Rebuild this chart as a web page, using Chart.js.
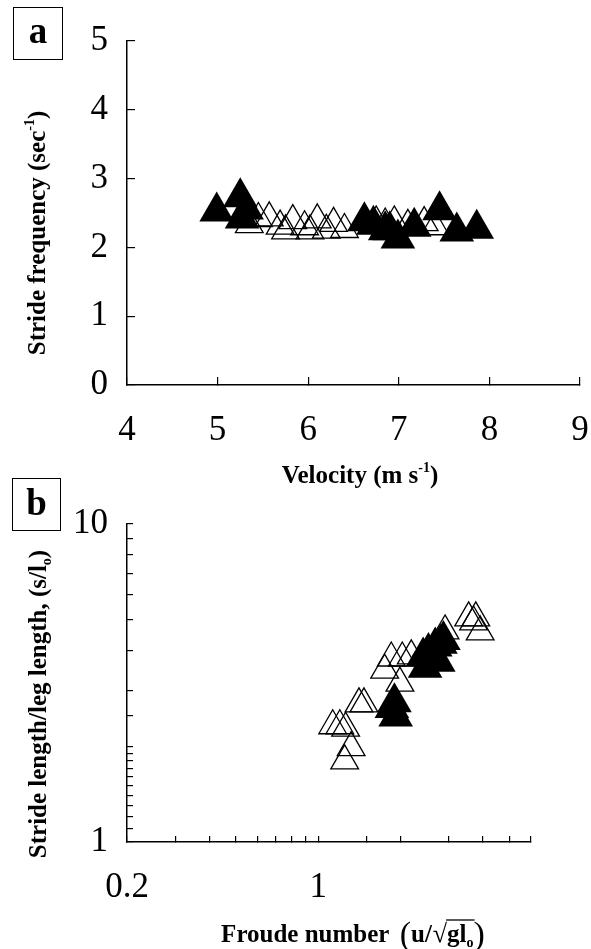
<!DOCTYPE html>
<html>
<head>
<meta charset="utf-8">
<script src="https://cdn.jsdelivr.net/npm/chart.js@4.4.1/dist/chart.umd.min.js"></script>
<style>
  body { margin:0; background:#fff; width:591px; height:949px; position:relative; overflow:hidden; }
  canvas { position:absolute; left:0; }
  .panel { position:absolute; border:1.5px solid #000; font-family:'Liberation Serif',serif; font-weight:bold;
           font-size:37px; text-align:center; box-sizing:border-box; z-index:2; background:transparent; }
</style>
</head>
<body>
<div class="panel" style="left:13px;top:7px;width:50px;height:53px;line-height:46px;">a</div>
<div class="panel" style="left:12px;top:478px;width:49px;height:53px;line-height:48px;">b</div>
<canvas id="chartA" width="600" height="500" style="top:0"></canvas>
<canvas id="chartB" width="591" height="489" style="top:460px"></canvas>
<script>
// panel a : stride frequency vs velocity
var velocityOpen = [5.35,5.45,5.57,5.69,5.75,5.83,5.96,6.02,6.10,6.20,6.28,6.40,6.75,6.85,6.95,7.10,7.28,7.40];
var freqOpen     = [2.33,2.42,2.43,2.31,2.24,2.39,2.30,2.24,2.40,2.25,2.35,2.26,2.37,2.34,2.37,2.32,2.36,2.30];
var velocityFilled = [4.99,5.25,5.27,5.32,6.62,6.72,6.85,6.90,6.99,7.17,7.45,7.64,7.86];
var freqFilled     = [2.52,2.73,2.42,2.55,2.38,2.33,2.25,2.25,2.13,2.30,2.54,2.23,2.27];
var velocityTicks = [4,5,6,7,8,9];
var freqTicks = [0,1,2,3,4,5];

// panel b : relative stride length vs Froude number (log-log)
var froudeOpen = [1.13,1.20,1.26,1.32,1.25,1.41,1.47,1.75,1.85,2.03,2.19,1.99,2.91,3.55,3.77,3.70,3.91];
var lengthOpen = [2.32,2.32,2.28,1.98,1.80,2.72,2.72,3.47,3.79,3.79,3.85,3.16,4.61,5.07,5.07,4.92,4.58];
var froudeFilled = [1.86,1.92,1.90,2.42,2.46,2.53,2.60,2.68,2.75,2.80,2.87];
var lengthFilled = [2.64,2.48,2.75,3.83,3.53,3.96,3.75,4.12,3.69,4.20,4.32];
var froudeTickLabels = [0.2,1];
var lengthTickLabels = [1,10];

var SERIF = "'Liberation Serif', 'Times New Roman', serif";

function pairs(xs, ys){
	var out=[];
	for (var i=0;i<xs.length;i++){ out.push({x:xs[i], y:ys[i]}); }
	return out;
}

function openSet(xs, ys){
	return { data: pairs(xs,ys), pointStyle:'triangle', pointRadius:16, pointHoverRadius:16,
		backgroundColor:'rgba(0,0,0,0)', borderColor:'#000', borderWidth:1.3, order:1 };
}
function filledSet(xs, ys){
	return { data: pairs(xs,ys), pointStyle:'triangle', pointRadius:20, pointHoverRadius:20,
		backgroundColor:'#000', borderColor:'#000', borderWidth:0, order:0 };
}

// draws a line of text made of several pieces (for superscripts, subscripts, overline)
function drawRich(ctx, segs, cx, cy, rot){
	ctx.save();
	ctx.translate(cx, cy);
	if (rot) ctx.rotate(rot);
	var total = 0;
	segs.forEach(function(s){ ctx.font = s.font; s.w = ctx.measureText(s.t).width; total += s.w + (s.gap||0); });
	var x = -total/2;
	ctx.fillStyle = '#000';
	ctx.textAlign = 'left';
	ctx.textBaseline = 'alphabetic';
	var overStart = null, overEnd = null;
	segs.forEach(function(s){
		ctx.font = s.font;
		ctx.fillText(s.t, x, s.dy || 0);
		if (s.over){
			if (overStart === null) overStart = x;
			overEnd = x + s.w;
		}
		x += s.w + (s.gap||0);
	});
	if (overStart !== null){
		ctx.strokeStyle = '#000';
		ctx.lineWidth = 1.3;
		ctx.beginPath();
		ctx.moveTo(overStart - 1, -22);
		ctx.lineTo(overEnd + 1, -22);
		ctx.stroke();
	}
	ctx.restore();
}

var richTitles = {
	id: 'richTitles',
	afterDraw: function(chart, args, opts){
		(opts.items || []).forEach(function(it){
			drawRich(chart.ctx, it.segs, it.x, it.y, it.rot);
		});
	}
};

var B25 = 'bold 25px ' + SERIF;
var B14 = 'bold 14px ' + SERIF;

function axisStyle(len){
	return {
		grid: { drawOnChartArea:false, drawTicks:true, tickLength:-len, color:'#000', lineWidth:1.2 },
		border: { display:true, color:'#000', width:1.5 }
	};
}

function labelOnly(list){
	return function(value){
		for (var i=0;i<list.length;i++){
			if (Math.abs(value - list[i]) < 1e-6 * list[i]) return String(list[i]);
		}
		return '';
	};
}

// the tick padding is large, keep it from eating into the chart area
function fixX(h){ return function(s){ s.height = h; s.paddingLeft = 0; s.paddingRight = 0; }; }
function fixY(w){ return function(s){ s.width = w; s.paddingTop = 0; s.paddingBottom = 0; }; }

var TICKFONT = {family:SERIF, size:35, lineHeight:1};

var ax = axisStyle(8), ay = axisStyle(8);
new Chart(document.getElementById('chartA'), {
	type: 'scatter',
	data: { datasets: [ filledSet(velocityFilled, freqFilled), openSet(velocityOpen, freqOpen) ] },
	options: {
		responsive:false, animation:false, events:[],
		layout: { padding: { top:41, right:4, left:0, bottom:0 } },
		plugins: {
			legend:{display:false}, tooltip:{enabled:false},
			richTitles: { items: [
				{ x:45, y:233, rot:-Math.PI/2, segs:[
					{t:'Stride frequency (sec', font:B25},
					{t:'-1', font:B14, dy:-11},
					{t:')', font:B25} ] },
				{ x:360, y:483, segs:[
					{t:'Velocity (m s', font:B25},
					{t:'-1', font:B14, dy:-11},
					{t:')', font:B25} ] }
			] }
		},
		scales: {
			x: { type:'linear', position:'bottom', min:velocityTicks[0], max:velocityTicks[velocityTicks.length-1],
				grid: ax.grid, border: ax.border,
				ticks: { stepSize:1, color:'#000', font:TICKFONT, padding:36, maxRotation:0, autoSkip:false },
				afterFit: fixX(115) },
			y: { type:'linear', min:freqTicks[0], max:freqTicks[freqTicks.length-1],
				grid: ay.grid, border: ay.border,
				ticks: { stepSize:1, color:'#000', font:TICKFONT, padding:27 },
				afterFit: fixY(127) }
		}
	},
	plugins: [richTitles]
});

var bx = axisStyle(6), by = axisStyle(6);
new Chart(document.getElementById('chartB'), {
	type: 'scatter',
	data: { datasets: [ filledSet(froudeFilled, lengthFilled), openSet(froudeOpen, lengthOpen) ] },
	options: {
		responsive:false, animation:false, events:[],
		layout: { padding: { top:64, right:60, left:0, bottom:0 } },
		plugins: {
			legend:{display:false}, tooltip:{enabled:false},
			richTitles: { items: [
				{ x:46, y:244, rot:-Math.PI/2, segs:[
					{t:'Stride length/leg length, (s/l', font:B25},
					{t:'o', font:B14, dy:5},
					{t:')', font:B25} ] },
				{ x:353, y:482, segs:[
					{t:'Froude number ', font:B25, gap:4},
					{t:'(', font:'34px ' + SERIF, dy:3},
					{t:'u/', font:B25, gap:1},
					{t:'\u221A', font:'26px ' + SERIF},
					{t:'gl', font:B25, over:true},
					{t:'o', font:B14, dy:5, over:true},
					{t:')', font:'34px ' + SERIF, dy:3} ] }
			] }
		},
		scales: {
			x: { type:'logarithmic', position:'bottom', min:froudeTickLabels[0], max:6,
				grid: bx.grid, border: bx.border,
				ticks: { color:'#000', font:TICKFONT, padding:34, maxRotation:0, autoSkip:false,
					callback: labelOnly(froudeTickLabels) },
				afterFit: fixX(107) },
			y: { type:'logarithmic', min:lengthTickLabels[0], max:lengthTickLabels[1],
				grid: by.grid, border: by.border,
				ticks: { color:'#000', font:TICKFONT, padding:25, autoSkip:false,
					callback: labelOnly(lengthTickLabels) },
				afterFit: fixY(127) }
		}
	},
	plugins: [richTitles]
});
</script>
</body>
</html>
